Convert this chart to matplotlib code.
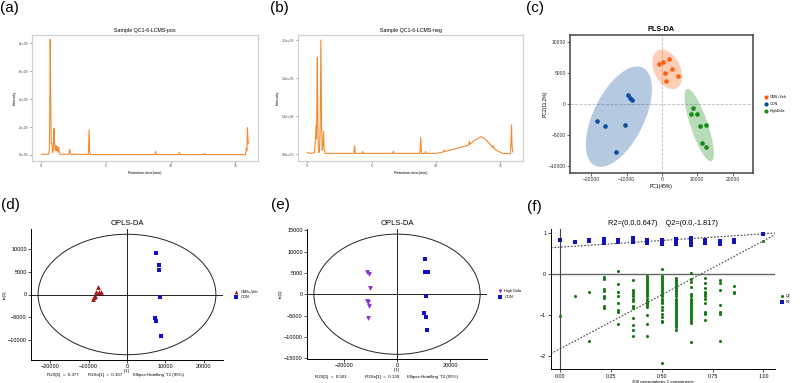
import numpy as np
import matplotlib.pyplot as plt
from matplotlib.patches import Ellipse

plt.rcParams['font.family'] = ['Liberation Sans', 'DejaVu Sans']

W, H = 800, 383

# (a) chromatogram, positive mode (time in min, intensity in counts)
pos_time = [0.0, 0.55, 0.62, 0.66, 0.69, 0.73, 0.77, 0.82, 0.87, 0.93, 0.98, 1.03, 1.08, 1.14, 1.19, 1.24, 1.29, 1.35, 1.4, 1.47,
            2.12, 2.2, 2.28, 3.64, 3.7, 3.74, 3.8, 8.78, 8.84, 8.9, 10.62, 10.68, 10.74, 12.56, 12.63, 12.7,
            15.5, 15.8, 15.87, 15.91, 15.95, 15.99, 16.02]
pos_int = [0.05e9, 0.06e9, 0.3e9, 3.5e9, 8.3e9, 4.0e9, 0.8e9, 0.85e9, 0.15e9, 0.3e9, 1.9e9, 1.0e9, 0.3e9, 0.72e9, 0.3e9, 0.6e9, 0.2e9, 0.55e9, 0.1e9, 0.05e9,
           0.05e9, 0.4e9, 0.05e9, 0.04e9, 1.8e9, 0.3e9, 0.03e9, 0.03e9, 0.25e9, 0.03e9, 0.03e9, 0.2e9, 0.03e9, 0.03e9, 0.12e9, 0.03e9,
           0.03e9, 0.0, 0.5e9, 0.3e9, 1.95e9, 1.2e9, 0.8e9]

# (b) chromatogram, negative mode
neg_time = [0.0, 0.3, 0.55, 0.62, 0.68, 0.72, 0.78, 0.82, 0.86, 0.9, 0.95, 1.0, 1.06, 1.11, 1.16, 1.22, 1.27, 1.31, 1.38,
            3.62, 3.68, 3.74, 4.25, 4.3, 4.35, 6.65, 6.7, 6.75, 8.75, 8.82, 8.88, 9.15, 9.2, 9.25,
            10.0, 10.6, 10.65, 10.7, 11.5, 12.4, 12.55, 12.6, 12.65, 13.0, 13.3, 13.5, 13.8, 14.1, 14.4, 14.45, 14.5,
            14.8, 15.2, 15.8, 15.88, 15.92, 15.97]
neg_int = [0.02e9, 0.01e9, 0.02e9, 0.15e9, 0.38e9, 0.2e9, 1.27e9, 0.5e9, 0.08e9, 0.02e9, 0.05e9, 0.3e9, 1.5e9, 0.4e9, 0.05e9, 0.12e9, 0.3e9, 0.08e9, 0.01e9,
           0.01e9, 0.11e9, 0.01e9, 0.01e9, 0.035e9, 0.01e9, 0.01e9, 0.04e9, 0.01e9, 0.01e9, 0.22e9, 0.01e9, 0.01e9, 0.035e9, 0.01e9,
           0.01e9, 0.03e9, 0.055e9, 0.035e9, 0.07e9, 0.11e9, 0.12e9, 0.17e9, 0.13e9, 0.18e9, 0.21e9, 0.23e9, 0.2e9, 0.15e9, 0.09e9, 0.11e9, 0.08e9,
           0.04e9, 0.01e9, 0.005e9, 0.385e9, 0.1e9, 0.03e9]

# (c) PLS-DA scores
pls_groups = ['CMS+Veh', 'CON', 'HighDula']
pls_x = [[-700, 300, 1900, 750, 2800, 4500, 1200],
         [-9600, -8950, -8450, -18250, -16200, -10550, -13100],
         [8750, 8200, 9900, 10900, 12500, 11400, 12400]]
pls_y = [[6350, 6700, 7250, 4950, 5550, 4450, 3600],
         [1350, 1000, 600, -2750, -3600, -3500, -7800],
         [-650, -1700, -1700, -3600, -3400, -6300, -6950]]

# (d) OPLS-DA CMS+Veh vs CON
d_groups = ['CMS+Veh', 'CON']
d_x = [[-7650, -8100, -7400, -6850, -8600, -8800, -8300],
       [7500, 8350, 8350, 8700, 7200, 7500, 8850]]
d_y = [[1550, 450, 450, 450, -450, -900, -250],
       [9000, 6350, 5350, -600, -5200, -5700, -9100]]
d_ellipse = (23150, 13150)
d_stats = ['R2X[1]  =  0.377', 'R2Xo[1]  =  0.167', 'Ellipse:Hotelling\' T2 (95%)']

# (e) OPLS-DA High Dula vs CON
e_groups = ['High Dula', 'CON']
e_x = [[-11200, -10550, -10300, -11450, -10950, -10550, -11050],
       [10550, 10550, 11550, 11050, 10200, 10950, 11200]]
e_y = [[5150, 4750, 1350, -1550, -1900, -2800, -5550],
       [8350, 5250, 5100, -450, -4300, -5250, -8350]]
e_ellipse = (31400, 14100)
e_stats = ['R2X[1]  =  0.501', 'R2Xo[1]  =  0.139', 'Ellipse:Hotelling\' T2 (95%)']

# (f) permutation test
perm_corr = [0.0, 0.071, 0.143, 0.214, 0.286, 0.357, 0.429, 0.5, 0.571, 0.643, 0.714, 0.786, 0.857, 1.0]
q2_vals = [[-1.02],
           [-0.55],
           [-0.44, -1.62],
           [-0.08, -0.13, -0.36, -0.41, -0.53, -0.58, -0.79, -0.84],
           [0.07, -0.25, -0.45, -0.54, -0.70, -0.89, -0.92, -1.23],
           [-0.15, -0.39, -0.44, -0.49, -0.54, -0.60, -0.66, -0.77, -0.84, -1.07, -1.25, -1.37, -1.52],
           [-0.06, -0.1, -0.15, -0.2, -0.25, -0.3, -0.35, -0.4, -0.45, -0.5, -0.55, -0.6, -0.65, -0.7, -0.75, -0.8, -1.01, -1.23, -1.52],
           [0.11, -0.05, -0.1, -0.15, -0.2, -0.25, -0.3, -0.35, -0.4, -0.45, -0.5, -0.55, -0.6, -0.65, -0.71, -0.8, -0.89, -0.97, -1.04, -1.14, -1.18, -2.17],
           [-0.1, -0.15, -0.2, -0.25, -0.3, -0.35, -0.4, -0.45, -0.5, -0.55, -0.6, -0.65, -0.7, -0.75, -0.8, -0.85, -0.9, -0.95, -1.0, -1.05, -1.1, -1.15, -1.2, -1.25, -1.3, -1.36],
           [0.02, -0.13, -0.19, -0.33, -0.49, -0.55, -0.6, -0.65, -0.7, -0.75, -0.8, -0.85, -0.9, -0.95, -1.0, -1.05, -1.1, -1.15, -1.2, -1.65],
           [-0.1, -0.23, -0.35, -0.43, -0.48, -0.53, -0.6, -0.71, -0.92, -0.98, -1.12],
           [-0.16, -0.23, -0.4, -0.75, -0.92, -0.98, -1.62],
           [-0.29, -0.43, -0.47],
           [0.80]]
r2_vals = [[0.81],
           [0.78],
           [0.79, 0.81, 0.83],
           [0.75, 0.77, 0.79, 0.81, 0.83, 0.84],
           [0.76, 0.78, 0.80, 0.83],
           [0.76, 0.79, 0.82, 0.85, 0.87],
           [0.74, 0.76, 0.79, 0.82],
           [0.72, 0.75, 0.78, 0.81],
           [0.73, 0.76, 0.79, 0.82, 0.84],
           [0.70, 0.73, 0.76, 0.79, 0.82, 0.85, 0.88],
           [0.75, 0.78, 0.81, 0.83],
           [0.72, 0.75, 0.78, 0.80],
           [0.76, 0.79, 0.82],
           [0.97]]
r2_intercept, q2_intercept = 0.647, -1.817

fig = plt.figure(figsize=(8, 3.83), dpi=100)


def box(l, t, r, b):
    return fig.add_axes([l / W, 1 - b / H, (r - l) / W, (b - t) / H])


def label(x, y, s, **kw):
    fig.text(x / W, 1 - y / H, s, va='center', **kw)


# chromatograms
def chrom(ax, t, y, title, yticks, ylabels, ylim):
    ax.plot(t, y, color='#F28A30', lw=0.8)
    ax.set_xlim(-0.72, 16.77)
    ax.set_ylim(ylim)
    ax.set_xticks([0, 5, 10, 15])
    ax.set_yticks(yticks)
    ax.set_yticklabels(ylabels)
    ax.tick_params(labelsize=2.4, length=1.5, width=0.4, pad=1, colors='#444')
    for s in ax.spines.values():
        s.set_color('#d0d0d0')
        s.set_linewidth(0.9)
    ax.set_title(title, fontsize=3.8, pad=2)
    ax.set_xlabel('Retention time(min)', fontsize=2.8, labelpad=1.5)
    ax.set_ylabel('Intensity', fontsize=2.8, labelpad=1.5)


ax = box(32, 35, 258, 161)
chrom(ax, pos_time, pos_int, 'Sample QC1-6-LCMS-pos', [0, 2e9, 4e9, 6e9, 8e9],
      ['0e+00', '2e+09', '4e+09', '6e+09', '8e+09'], (-0.43e9, 8.6e9))

ax = box(298, 35, 523, 161)
chrom(ax, neg_time, neg_int, 'Sample QC1-6-LCMS-neg', [0, 0.5e9, 1.0e9, 1.5e9],
      ['0.0e+00', '5.0e+08', '1.0e+09', '1.5e+09'], (-0.09e9, 1.566e9))

# PLS-DA
ax = box(570, 35, 753, 173)
pt_cols = ['#FF5F0F', '#0A4C9E', '#158C15']
for gx, gy, c, name in zip(pls_x, pls_y, pt_cols, pls_groups):
    gx, gy = np.array(gx, float), np.array(gy, float)
    L = np.linalg.cholesky(np.cov(gx, gy))
    th = np.linspace(0, 2 * np.pi, 200)
    ell = L @ (np.vstack([np.cos(th), np.sin(th)]) * np.sqrt(5.991))
    ax.fill(gx.mean() + ell[0], gy.mean() + ell[1], color=c, alpha=0.3, lw=0, zorder=1)
    ax.scatter(gx, gy, s=11, color=c, lw=0, zorder=3, label=name)
ax.axhline(0, color='#bdbdbd', ls='--', lw=0.6, zorder=0)
ax.axvline(0, color='#bdbdbd', ls='--', lw=0.6, zorder=0)
ax.set_xlim(-26000, 25800)
ax.set_ylim(-11200, 11100)
ax.set_xticks([-20000, -10000, 0, 10000, 20000])
ax.set_yticks([-10000, -5000, 0, 5000, 10000])
ax.tick_params(labelsize=3.6, length=2, width=0.5, pad=1, colors='#333')
for s in ax.spines.values():
    s.set_color('#444444')
    s.set_linewidth(1.1)
ax.set_title('PLS-DA', fontsize=5.2, fontweight='bold', pad=3)
ax.set_xlabel('PC1(45%)', fontsize=3.6, labelpad=1)
ax.set_ylabel('PC2(11.2%)', fontsize=3.6, labelpad=1)
ax.legend(loc='center left', bbox_to_anchor=(1.03, 0.5), frameon=False, fontsize=2.7,
          handletextpad=0.1, labelspacing=0.9, markerscale=0.9)


# OPLS-DA
def opls(ax, gxs, gys, names, markers, cols, ell, xlim, ylim, xticks, yticks, stats, stats_x, stats_y):
    ax.add_patch(Ellipse((0, 0), 2 * ell[0], 2 * ell[1], fill=False, ec='#222', lw=0.7))
    ax.axhline(0, color='#222', lw=0.7)
    ax.axvline(0, color='#222', lw=0.7)
    for gx, gy, n, m, c in zip(gxs, gys, names, markers, cols):
        ax.scatter(gx, gy, s=12, marker=m, color=c, lw=0, zorder=3, label=n)
    ax.set_xlim(xlim)
    ax.set_ylim(ylim)
    ax.set_xticks(xticks)
    ax.set_yticks(yticks)
    ax.spines['top'].set_visible(False)
    ax.spines['right'].set_visible(False)
    for s in ('left', 'bottom'):
        ax.spines[s].set_linewidth(0.7)
    ax.tick_params(labelsize=4, length=2, width=0.5, pad=1)
    ax.set_title('OPLS-DA', fontsize=5.5, pad=3)
    ax.set_xlabel('t[1]', fontsize=3.0, labelpad=0)
    ax.set_ylabel('to[1]', fontsize=3.2, labelpad=1)
    ax.legend(loc='center left', bbox_to_anchor=(1.03, 0.5), frameon=False, fontsize=2.8,
              handletextpad=0.2, labelspacing=0.4, markerscale=0.8)
    for s, x in zip(stats, stats_x):
        label(x, stats_y, s, fontsize=3.2)


ax = box(31, 229, 223, 360)
opls(ax, d_x, d_y, d_groups, ['^', 's'], ['#A31515', '#1010CC'], d_ellipse,
     (-25000, 25000), (-14300, 14300), [-20000, -10000, 0, 10000, 20000],
     [-10000, -5000, 0, 5000, 10000], d_stats, [47, 88, 133], 375)

ax = box(307, 229, 487, 359)
opls(ax, e_x, e_y, e_groups, ['v', 's'], ['#8A2BD6', '#1010CC'], e_ellipse,
     (-34000, 34000), (-15200, 15300), [-20000, 0, 20000],
     [-15000, -10000, -5000, 0, 5000, 10000, 15000], e_stats, [315, 365, 407], 377)

# permutation test
ax = box(551, 229, 775, 369)
qx = [c for c, v in zip(perm_corr, q2_vals) for _ in v]
qy = [y for v in q2_vals for y in v]
rx = [c for c, v in zip(perm_corr, r2_vals) for _ in v]
ry = [y for v in r2_vals for y in v]
ax.axhline(0, color='#666', lw=1.0, zorder=1)
ax.axvline(0, color='#444', lw=0.8, zorder=1)
ax.axline((0, r2_intercept), (1, r2_vals[-1][0]), color='#444', ls=(0, (1.5, 1.5)), lw=0.8)
ax.axline((0, q2_intercept), (1, q2_vals[-1][0]), color='#444', ls=(0, (1.5, 1.5)), lw=0.8)
ax.scatter(qx, qy, s=5, color='#157A15', lw=0, zorder=3, label='Q2')
ax.scatter(rx, ry, s=6, marker='s', color='#1414B4', lw=0, zorder=3, label='R2')
ax.set_xlim(-0.046, 1.057)
ax.set_ylim(-2.31, 1.087)
ax.set_xticks([0, 0.25, 0.5, 0.75, 1.0])
ax.set_xticklabels(['0.00', '0.25', '0.50', '0.75', '1.00'])
ax.set_yticks([-2, -1, 0, 1])
ax.spines['top'].set_visible(False)
ax.spines['right'].set_visible(False)
for s in ('left', 'bottom'):
    ax.spines[s].set_linewidth(0.7)
ax.tick_params(labelsize=3.8, length=2, width=0.5, pad=1.5)
ax.set_title('R2=(0.0,0.647)    Q2=(0.0,-1.817)', fontsize=5.3, pad=3)
ax.set_xlabel('200 permutations 1 components', fontsize=3.2, labelpad=0.5)
ax.legend(loc='center left', bbox_to_anchor=(1.0, 0.5), frameon=False, fontsize=2.6,
          handletextpad=0.1, labelspacing=0.6, markerscale=1.0)

# panel labels
for s, x, y in [('(a)', 0, 8), ('(b)', 270, 8), ('(c)', 526, 8), ('(d)', 1, 205), ('(e)', 271, 205), ('(f)', 527, 207)]:
    label(x, y, s, fontsize=11)

fig.savefig('out.png', dpi=100)
